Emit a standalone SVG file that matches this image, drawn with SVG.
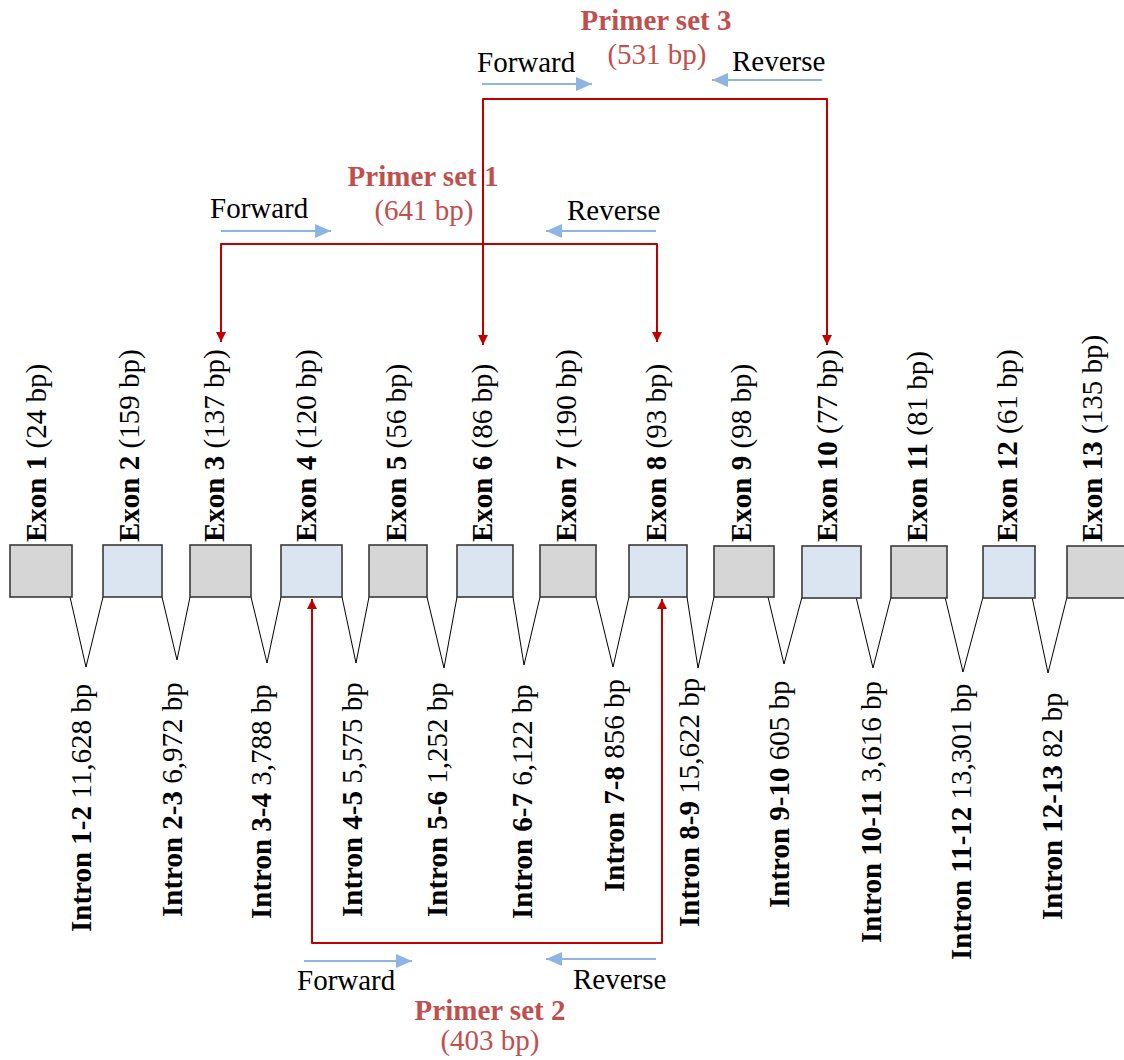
<svg xmlns="http://www.w3.org/2000/svg" width="1124" height="1060" viewBox="0 0 1124 1060">
<style>
text{font-family:"Liberation Serif","Times New Roman",serif;font-size:29px;fill:#000}
.b{font-weight:bold}
.ex{fill:#d6d6d6;stroke:#3a3a3a;stroke-width:1.6}
.eb{fill:#dbe5f1;stroke:#3a3a3a;stroke-width:1.6}
.v{fill:none;stroke:#000;stroke-width:1}
.red{fill:none;stroke:#c00000;stroke-width:2;stroke-linejoin:round}
.blue{fill:none;stroke:#8eb4e3;stroke-width:2}
.pt{fill:#c0504d}
</style>
<defs>
<marker id="ra" viewBox="0 0 10 10" refX="10" refY="5" markerWidth="10" markerHeight="11" markerUnits="userSpaceOnUse" orient="auto-start-reverse"><path d="M0,0 L10,5 L0,10 z" fill="#c00000"/></marker>
<marker id="ba" viewBox="0 0 16 14" refX="16" refY="7" markerWidth="16" markerHeight="14" markerUnits="userSpaceOnUse" orient="auto"><path d="M0,0 L16,7 L0,14 z" fill="#8eb4e3"/></marker>
</defs>
<g id="introns">
<polyline class="v" points="70,597 86,667 103,597"/>
<polyline class="v" points="162,597 177,660 190,597"/>
<polyline class="v" points="251,597 267,663 281,597"/>
<polyline class="v" points="342,597 356,663 369,597"/>
<polyline class="v" points="427,597 444,668 457,597"/>
<polyline class="v" points="513,597 524,665 540,597"/>
<polyline class="v" points="596,597 613,667 629,597"/>
<polyline class="v" points="687,597 698,668 714,597"/>
<polyline class="v" points="768,597 784,664 802,597"/>
<polyline class="v" points="856,597 873,668 891,597"/>
<polyline class="v" points="945,597 963,672 983,597"/>
<polyline class="v" points="1032,597 1048,673 1067,597"/>
</g>
<g id="exon1"><rect class="ex" x="10" y="545" width="62" height="52"/><text transform="translate(46,542) rotate(-90)"><tspan class="b">Exon 1</tspan> (24 bp)</text></g>
<g id="exon2"><rect class="eb" x="103" y="545" width="59" height="52"/><text transform="translate(139,542) rotate(-90)"><tspan class="b">Exon 2</tspan> (159 bp)</text></g>
<g id="exon3"><rect class="ex" x="190" y="545" width="61" height="52"/><text transform="translate(224,542) rotate(-90)"><tspan class="b">Exon 3</tspan> (137 bp)</text></g>
<g id="exon4"><rect class="eb" x="281" y="545" width="61" height="52"/><text transform="translate(316,542) rotate(-90)"><tspan class="b">Exon 4</tspan> (120 bp)</text></g>
<g id="exon5"><rect class="ex" x="369" y="545" width="58" height="52"/><text transform="translate(406,542) rotate(-90)"><tspan class="b">Exon 5</tspan> (56 bp)</text></g>
<g id="exon6"><rect class="eb" x="457" y="545" width="56" height="52"/><text transform="translate(492,542) rotate(-90)"><tspan class="b">Exon 6</tspan> (86 bp)</text></g>
<g id="exon7"><rect class="ex" x="540" y="545" width="56" height="52"/><text transform="translate(576,542) rotate(-90)"><tspan class="b">Exon 7</tspan> (190 bp)</text></g>
<g id="exon8"><rect class="eb" x="629" y="545" width="58" height="52"/><text transform="translate(666,542) rotate(-90)"><tspan class="b">Exon 8</tspan> (93 bp)</text></g>
<g id="exon9"><rect class="ex" x="714" y="546" width="60" height="51"/><text transform="translate(751,542) rotate(-90)"><tspan class="b">Exon 9</tspan> (98 bp)</text></g>
<g id="exon10"><rect class="eb" x="802" y="546" width="59" height="52"/><text transform="translate(837,542) rotate(-90)"><tspan class="b">Exon 10</tspan> (77 bp)</text></g>
<g id="exon11"><rect class="ex" x="891" y="546" width="56" height="52"/><text transform="translate(927,542) rotate(-90)"><tspan class="b">Exon 11</tspan> (81 bp)</text></g>
<g id="exon12"><rect class="eb" x="983" y="546" width="52" height="52"/><text transform="translate(1017,542) rotate(-90)"><tspan class="b">Exon 12</tspan> (61 bp)</text></g>
<g id="exon13"><rect class="ex" x="1067" y="546" width="64" height="52"/><text transform="translate(1102,542) rotate(-90)"><tspan class="b">Exon 13</tspan> (135 bp)</text></g>
<g id="intron-labels">
<text transform="translate(91,932) rotate(-90)"><tspan class="b">Intron 1-2</tspan> 11,628 bp</text>
<text transform="translate(182,917) rotate(-90)"><tspan class="b">Intron 2-3</tspan> 6,972 bp</text>
<text transform="translate(271,919) rotate(-90)"><tspan class="b">Intron 3-4</tspan> 3,788 bp</text>
<text transform="translate(362,917) rotate(-90)"><tspan class="b">Intron 4-5</tspan> 5,575 bp</text>
<text transform="translate(447,917) rotate(-90)"><tspan class="b">Intron 5-6</tspan> 1,252 bp</text>
<text transform="translate(532,919) rotate(-90)"><tspan class="b">Intron 6-7</tspan> 6,122 bp</text>
<text transform="translate(624,892) rotate(-90)"><tspan class="b">Intron 7-8</tspan> 856 bp</text>
<text transform="translate(699,927) rotate(-90)"><tspan class="b">Intron 8-9</tspan> 15,622 bp</text>
<text transform="translate(789,908) rotate(-90)"><tspan class="b">Intron 9-10</tspan> 605 bp</text>
<text transform="translate(881,943) rotate(-90)"><tspan class="b">Intron 10-11</tspan> 3,616 bp</text>
<text transform="translate(971,960) rotate(-90)"><tspan class="b">Intron 11-12</tspan> 13,301 bp</text>
<text transform="translate(1062,920) rotate(-90)"><tspan class="b">Intron 12-13</tspan> 82 bp</text>
</g>
<g id="connectors">
<path class="red" d="M221,342 V244 H657 V342" marker-start="url(#ra)" marker-end="url(#ra)"/>
<path class="red" d="M483,345 V99 H827 V345" marker-start="url(#ra)" marker-end="url(#ra)"/>
<path class="red" d="M312,599 V943 H662 V599" marker-start="url(#ra)" marker-end="url(#ra)"/>
<line class="blue" x1="221" y1="231" x2="331" y2="231" marker-end="url(#ba)"/>
<line class="blue" x1="656" y1="231" x2="546" y2="231" marker-end="url(#ba)"/>
<line class="blue" x1="482" y1="84" x2="592" y2="84" marker-end="url(#ba)"/>
<line class="blue" x1="822" y1="80" x2="712" y2="80" marker-end="url(#ba)"/>
<line class="blue" x1="304" y1="961" x2="412" y2="961" marker-end="url(#ba)"/>
<line class="blue" x1="656" y1="959" x2="546" y2="959" marker-end="url(#ba)"/>
</g>
<g id="primer1">
<text class="b pt" x="423" y="186" text-anchor="middle">Primer set 1</text>
<text class="pt" x="424" y="220" text-anchor="middle">(641 bp)</text>
<text x="210" y="218">Forward</text>
<text x="567" y="220">Reverse</text>
</g>
<g id="primer3">
<text class="b pt" x="656" y="30" text-anchor="middle">Primer set 3</text>
<text class="pt" x="657" y="64" text-anchor="middle">(531 bp)</text>
<text x="477" y="72">Forward</text>
<text x="732" y="71">Reverse</text>
</g>
<g id="primer2">
<text x="297" y="990">Forward</text>
<text x="573" y="989">Reverse</text>
<text class="b pt" x="490" y="1020" text-anchor="middle">Primer set 2</text>
<text class="pt" x="490" y="1050" text-anchor="middle">(403 bp)</text>
</g>
</svg>
